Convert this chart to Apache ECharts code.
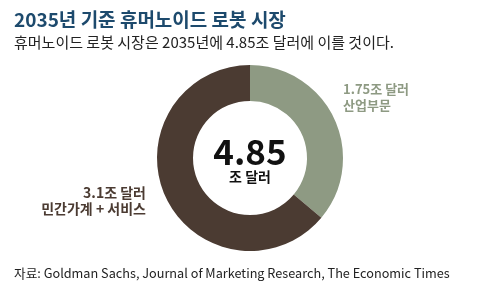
<!DOCTYPE html>
<html><head><meta charset="utf-8">
<script src="https://cdn.jsdelivr.net/npm/echarts@6/dist/echarts.min.js"></script>
<style>html,body{margin:0;padding:0;background:#fff}#c{width:500px;height:299px}</style>
</head><body><div id="c"></div>
<script>
var categories = ['산업부문', '민간가계 + 서비스'];
var values = [1.75, 3.1];
var valueLabels = ['1.75조 달러', '3.1조 달러'];
var colors = ['#8e9a83', '#4b3b32'];
var totalLabel = '4.85';
var totalUnit = '조 달러';
var titleText = '2035년 기준 휴머노이드 로봇 시장';
var subtitleText = '휴머노이드 로봇 시장은 2035년에 4.85조 달러에 이를 것이다.';
var sourceText = '자료: Goldman Sachs, Journal of Marketing Research, The Economic Times';

var font = '"Noto Sans CJK KR", "Noto Sans", sans-serif';
var chart = echarts.init(document.getElementById('c'), null, {renderer: 'canvas'});
var labelPos = [
  {x: 343, y: 81, align: 'left', size: 13},
  {x: 146, y: 185, align: 'right', size: 14}
];
chart.setOption({
  animation: false,
  title: [
    {text: titleText, left: 9, top: 5, textStyle: {fontFamily: font, fontSize: 19, fontWeight: 'bold', color: '#1d4a6d'}},
    {text: subtitleText, left: 9, top: 30, textStyle: {fontFamily: font, fontSize: 15, fontWeight: 'normal', color: '#222'}},
    {text: sourceText, left: 9, top: 262, textStyle: {fontFamily: font, fontSize: 12.7, fontWeight: 'normal', color: '#222'}}
  ],
  graphic: [
    {type: 'text', left: 'center', top: 134, style: {text: totalLabel, font: 'bold 35px ' + font, fill: '#111'}},
    {type: 'text', top: 170, left: 'center', style: {text: totalUnit, font: 'bold 14px ' + font, fill: '#111'}}
  ],
  series: [{
    type: 'pie',
    center: [250, 158],
    radius: [57, 93],
    startAngle: 90,
    clockwise: true,
    silent: true,
    itemStyle: {borderWidth: 0},
    data: categories.map(function (c, i) {
      return {
        name: c, value: values[i], itemStyle: {color: colors[i]},
        label: {
          show: true, position: 'outside',
          formatter: valueLabels[i] + '\n' + c,
          color: colors[i], fontFamily: font, fontSize: labelPos[i].size, fontWeight: 'bold', lineHeight: 16,
          align: labelPos[i].align
        },
        labelLine: {show: false}
      };
    }),
    labelLayout: function (p) {
      var lp = labelPos[p.dataIndex];
      return {x: lp.x, y: lp.y, align: lp.align, verticalAlign: 'top'};
    }
  }]
});
</script></body></html>
